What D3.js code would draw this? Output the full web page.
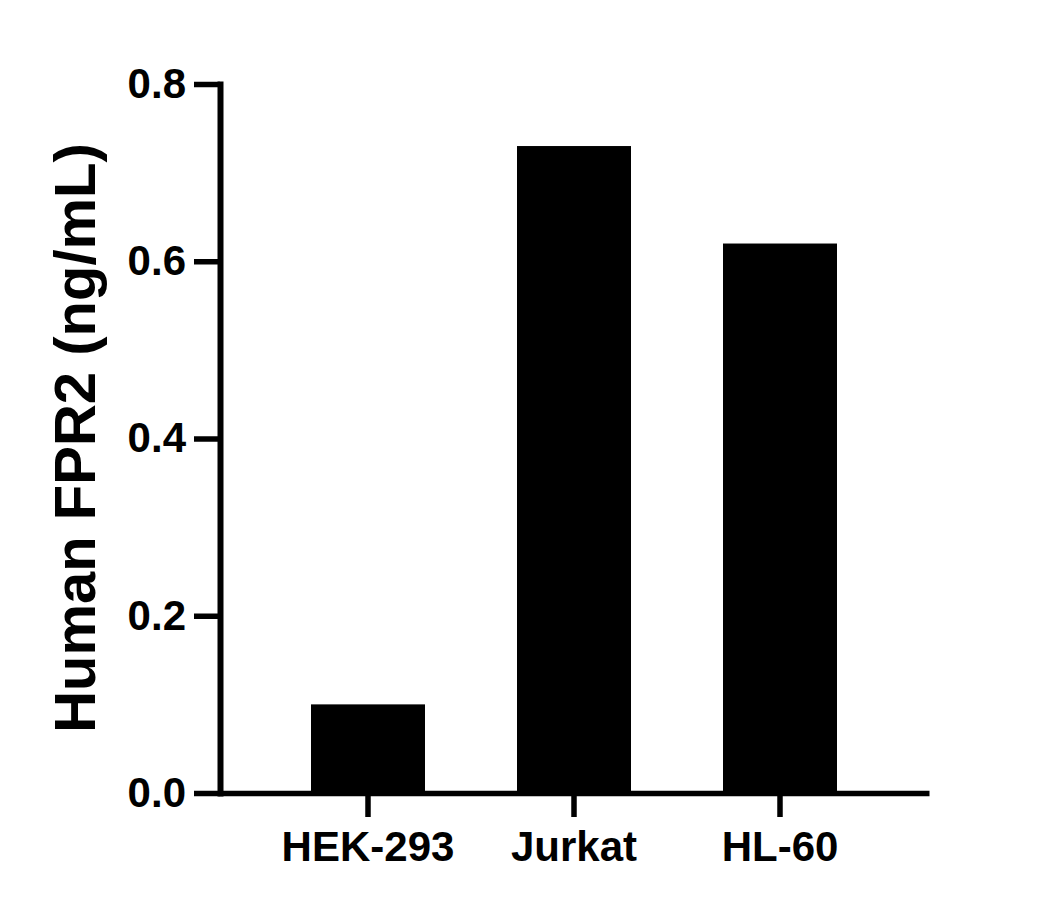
<!DOCTYPE html>
<html>
<head>
<meta charset="utf-8">
<script src="https://cdn.jsdelivr.net/npm/d3@7"></script>
<style>
  html, body { margin: 0; padding: 0; background: #fff; }
  svg { display: block; }
  text { font-family: "Liberation Sans", Arial, sans-serif; font-weight: bold; fill: #000; }
</style>
</head>
<body>
<svg id="chart" width="1062" height="910"></svg>
<script>
const categories = ["HEK-293", "Jurkat", "HL-60"];
const values = [0.10, 0.73, 0.62];
const yTicks = [0.0, 0.2, 0.4, 0.6, 0.8];
const yTitle = "Human FPR2 (ng/mL)";

const svg = d3.select("#chart");

const y = d3.scaleLinear().domain([0, 0.8]).range([793, 84]);
const x = d3.scaleBand().domain(categories).range([219, 929])
  .paddingInner(0.4466).paddingOuter(0.4466);

// bars
svg.append("g").selectAll("rect").data(values).join("rect")
  .attr("x", (d, i) => x(categories[i]))
  .attr("width", x.bandwidth())
  .attr("y", d => y(d))
  .attr("height", d => y(0) - y(d))
  .attr("fill", "#000");

// y axis
const yAxis = svg.append("g").attr("transform", "translate(220,0)")
  .call(d3.axisLeft(y).tickValues(yTicks).tickFormat(d3.format(".1f"))
    .tickSize(26).tickSizeOuter(0).tickPadding(8));
yAxis.select(".domain").attr("stroke", "#000").attr("stroke-width", 6).attr("stroke-linecap", "square");
yAxis.selectAll(".tick line").attr("stroke", "#000").attr("stroke-width", 5.5);
yAxis.selectAll(".tick text").attr("font-size", 42).attr("font-family", null);

// x axis
const xAxis = svg.append("g").attr("transform", "translate(0,793)")
  .call(d3.axisBottom(x).tickSize(24).tickSizeOuter(0).tickPadding(14));
xAxis.select(".domain").attr("stroke", "#000").attr("stroke-width", 5.5);
xAxis.selectAll(".tick line").attr("stroke", "#000").attr("stroke-width", 5.5);
xAxis.selectAll(".tick text").attr("font-size", 42).attr("font-family", null);

// y title
svg.append("text")
  .attr("transform", "rotate(-90)")
  .attr("x", -438)
  .attr("y", 95)
  .attr("text-anchor", "middle")
  .attr("font-size", 58)
  .text(yTitle);
</script>
</body>
</html>
